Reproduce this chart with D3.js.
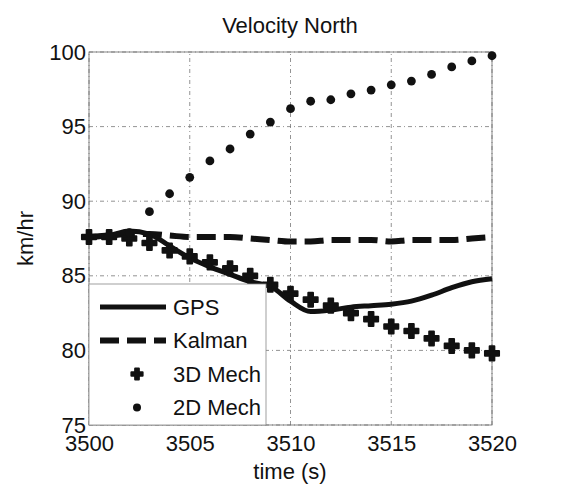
<!DOCTYPE html>
<html>
<head>
<meta charset="utf-8">
<script src="https://cdn.jsdelivr.net/npm/d3@7"></script>
<style>
  body { margin: 0; background: #fff; }
  text { font-family: "Liberation Sans", Arial, sans-serif; fill: #111; }
</style>
</head>
<body>
<svg id="chart" width="581" height="486"></svg>
<script>
// time axis, seconds
const time = d3.range(3500, 3521);

// velocity north, km/hr
const gps    = [87.6, 87.7, 88.0, 87.8, 87.0, 86.2, 85.6, 85.1, 84.6, 84.3, 83.3, 82.6, 82.7, 82.9, 83.0, 83.1, 83.3, 83.7, 84.2, 84.6, 84.8];
const kalman = [87.6, 87.7, 87.8, 87.8, 87.7, 87.6, 87.6, 87.6, 87.5, 87.4, 87.3, 87.3, 87.4, 87.4, 87.4, 87.3, 87.4, 87.4, 87.4, 87.5, 87.6];
const mech3d = [87.6, 87.6, 87.5, 87.2, 86.7, 86.3, 85.9, 85.5, 85.0, 84.4, 83.8, 83.4, 83.0, 82.5, 82.1, 81.6, 81.3, 80.8, 80.3, 80.0, 79.8];
const mech2d = [87.6, 87.7, 87.9, 89.3, 90.5, 91.6, 92.7, 93.5, 94.5, 95.3, 96.2, 96.7, 96.8, 97.2, 97.45, 97.8, 98.05, 98.5, 99.0, 99.4, 99.75];

const xTicks = [3500, 3505, 3510, 3515, 3520];
const yTicks = [75, 80, 85, 90, 95, 100];
const legendNames = ["GPS", "Kalman", "3D Mech", "2D Mech"];

const margin = {left: 89, right: 89, top: 52, bottom: 61};
const width = 581, height = 486;
const fontSize = "22px";

const svg = d3.select("#chart");

const x = d3.scaleLinear().domain([3500, 3520]).range([margin.left, width - margin.right]);
const y = d3.scaleLinear().domain([75, 100]).range([height - margin.bottom, margin.top]);

// grid
svg.append("g")
    .selectAll("line.vgrid")
    .data(xTicks)
    .enter().append("line")
    .attr("x1", d => x(d)).attr("x2", d => x(d))
    .attr("y1", y(75)).attr("y2", y(100))
    .attr("stroke", "#777").attr("stroke-width", 0.8)
    .attr("stroke-dasharray", "4,3,1,3");
svg.append("g")
    .selectAll("line.hgrid")
    .data(yTicks)
    .enter().append("line")
    .attr("x1", x(3500)).attr("x2", x(3520))
    .attr("y1", d => y(d)).attr("y2", d => y(d))
    .attr("stroke", "#777").attr("stroke-width", 0.8)
    .attr("stroke-dasharray", "4,3,1,3");

// axes
let xAxis = svg.append("g")
    .attr("transform", `translate(0,${y(75)})`)
    .call(d3.axisBottom(x).tickValues(xTicks).tickFormat(d3.format("d")).tickSize(0));
let yAxis = svg.append("g")
    .attr("transform", `translate(${x(3500)},0)`)
    .call(d3.axisLeft(y).tickValues(yTicks).tickSize(0).tickPadding(3));
[xAxis, yAxis].forEach(a => {
    a.select(".domain").remove();
    a.selectAll("text").style("font-size", fontSize).attr("fill", "#111");
});
xAxis.selectAll("text").attr("y", 26).attr("dy", 0);

// box
svg.append("rect")
    .attr("x", x(3500)).attr("y", y(100))
    .attr("width", x(3520) - x(3500)).attr("height", y(75) - y(100))
    .attr("fill", "none").attr("stroke", "#666").attr("stroke-width", 0.8);

let line = d3.line().x((d, i) => x(time[i])).y(d => y(d)).curve(d3.curveMonotoneX);

svg.append("path")
    .datum(kalman)
    .attr("d", line)
    .attr("fill", "none").attr("stroke", "#111")
    .attr("stroke-width", 6).attr("stroke-dasharray", "19,8");

svg.append("path")
    .datum(gps)
    .attr("d", line)
    .attr("fill", "none").attr("stroke", "#111")
    .attr("stroke-width", 5);

let plus = d3.symbol().type(d3.symbolCross).size(110);
let plusSmall = d3.symbol().type(d3.symbolCross).size(70);
svg.append("g")
    .selectAll("path")
    .data(mech3d)
    .enter().append("path")
    .attr("transform", (d, i) => `translate(${x(time[i])},${y(d)})`)
    .attr("d", plus)
    .attr("fill", "#111").attr("stroke", "#111").attr("stroke-width", 2).attr("stroke-linejoin", "round");

svg.append("g")
    .selectAll("circle")
    .data(mech2d)
    .enter().append("circle")
    .attr("cx", (d, i) => x(time[i]))
    .attr("cy", d => y(d))
    .attr("r", 4.4)
    .attr("fill", "#111");

// legend
let lg = svg.append("g");
lg.append("rect")
    .attr("x", x(3500)).attr("y", 284)
    .attr("width", 177).attr("height", y(75) - 284)
    .attr("fill", "#fff").attr("stroke", "#888").attr("stroke-width", 0.8);

let rows = lg.selectAll("g.row")
    .data(legendNames)
    .enter().append("g")
    .attr("transform", (d, i) => `translate(0,${307 + i * 33.5})`);

rows.append("text")
    .attr("x", 173).attr("y", 0).attr("dy", "0.36em")
    .style("font-size", fontSize)
    .text(d => d);

rows.filter((d, i) => i == 0).append("line")
    .attr("x1", 100).attr("x2", 166).attr("y1", 0).attr("y2", 0)
    .attr("stroke", "#111").attr("stroke-width", 5);
rows.filter((d, i) => i == 1).append("line")
    .attr("x1", 100).attr("x2", 166).attr("y1", 0).attr("y2", 0)
    .attr("stroke", "#111").attr("stroke-width", 6).attr("stroke-dasharray", "19,8");
rows.filter((d, i) => i == 2).append("path")
    .attr("transform", "translate(137,0)")
    .attr("d", plusSmall)
    .attr("fill", "#111").attr("stroke", "#111").attr("stroke-width", 2).attr("stroke-linejoin", "round");
rows.filter((d, i) => i == 3).append("circle")
    .attr("cx", 137).attr("cy", 0).attr("r", 4).attr("fill", "#111");

// titles
svg.append("text")
    .attr("x", 290).attr("y", 25).attr("dy", "0.36em")
    .attr("text-anchor", "middle").style("font-size", fontSize)
    .text("Velocity North");
svg.append("text")
    .attr("x", 290).attr("y", 471).attr("dy", "0.36em")
    .attr("text-anchor", "middle").style("font-size", fontSize)
    .text("time (s)");
svg.append("text")
    .attr("transform", `translate(25,${(y(75) + y(100)) / 2}) rotate(-90)`)
    .attr("dy", "0.36em")
    .attr("text-anchor", "middle").style("font-size", fontSize)
    .text("km/hr");
</script>
</body>
</html>
